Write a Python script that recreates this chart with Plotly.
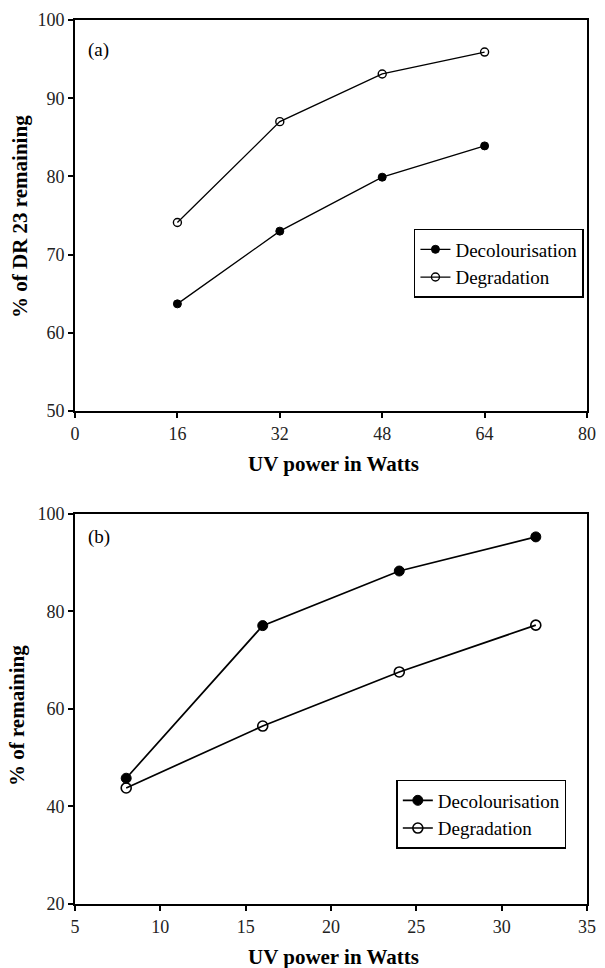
import plotly.graph_objects as go

# Panel (a)
power_a = [16, 32, 48, 64]
decol_a = [63.7, 73.0, 79.9, 83.9]
degr_a = [74.1, 87.0, 93.1, 95.9]

# Panel (b)
power_b = [8, 16, 24, 32]
decol_b = [45.8, 77.1, 88.3, 95.3]
degr_b = [43.8, 56.5, 67.6, 77.2]

FONT = "Liberation Serif"

fig = go.Figure()

fig.add_trace(go.Scatter(x=power_a, y=decol_a, mode="lines+markers", name="Decolourisation",
                         line=dict(color="black", width=1.3),
                         marker=dict(symbol="circle", size=8, color="black", line=dict(color="black", width=1)),
                         xaxis="x", yaxis="y", legend="legend"))
fig.add_trace(go.Scatter(x=power_a, y=degr_a, mode="lines+markers", name="Degradation",
                         line=dict(color="black", width=1.3),
                         marker=dict(symbol="circle-open", size=8, color="black", line=dict(color="black", width=1.4)),
                         xaxis="x", yaxis="y", legend="legend"))
fig.add_trace(go.Scatter(x=power_b, y=decol_b, mode="lines+markers", name="Decolourisation",
                         line=dict(color="black", width=1.7),
                         marker=dict(symbol="circle", size=10, color="black", line=dict(color="black", width=1)),
                         xaxis="x2", yaxis="y2", legend="legend2"))
fig.add_trace(go.Scatter(x=power_b, y=degr_b, mode="lines+markers", name="Degradation",
                         line=dict(color="black", width=1.7),
                         marker=dict(symbol="circle-open", size=10, color="black", line=dict(color="black", width=1.6)),
                         xaxis="x2", yaxis="y2", legend="legend2"))

axis_common = dict(showline=True, linecolor="black", linewidth=2, mirror=True,
                   ticks="outside", ticklen=5, tickwidth=1.5, tickcolor="black",
                   showgrid=False, zeroline=False,
                   tickfont=dict(family=FONT, size=18, color="#222"))

fig.update_layout(
    width=605, height=968,
    margin=dict(l=75, r=9, t=20, b=64),
    paper_bgcolor="white", plot_bgcolor="white",
    font=dict(family=FONT, color="black"),
    xaxis=dict(domain=[0, 1], range=[0, 80], tickvals=[0, 16, 32, 48, 64, 80], anchor="y", **axis_common),
    yaxis=dict(domain=[0.5577, 1], range=[50, 100], tickvals=[50, 60, 70, 80, 90, 100], anchor="x", **axis_common),
    xaxis2=dict(domain=[0, 1], range=[5, 35], tickvals=[5, 10, 15, 20, 25, 30, 35], anchor="y2", **axis_common),
    yaxis2=dict(domain=[0, 0.4412], range=[20, 100], tickvals=[20, 40, 60, 80, 100], anchor="x2", **axis_common),
    legend=dict(x=0.662, y=0.7636, xanchor="left", yanchor="top",
                bordercolor="black", borderwidth=1.5, bgcolor="white",
                font=dict(family=FONT, size=19, color="black"), tracegroupgap=2),
    legend2=dict(x=0.6276, y=0.1403, xanchor="left", yanchor="top",
                 bordercolor="black", borderwidth=1.5, bgcolor="white",
                 font=dict(family=FONT, size=19, color="black"), tracegroupgap=2),
    showlegend=True,
)

annotations = [
    dict(text="(a)", x=0.045, y=0.966, xref="paper", yref="paper", showarrow=False,
         font=dict(family=FONT, size=19, color="black"), xanchor="center", yanchor="middle"),
    dict(text="(b)", x=0.047, y=0.415, xref="paper", yref="paper", showarrow=False,
         font=dict(family=FONT, size=19, color="black"), xanchor="center", yanchor="middle"),
    dict(text="<b>UV power in Watts</b>", x=0.505, y=0.498, xref="paper", yref="paper", showarrow=False,
         font=dict(family=FONT, size=21, color="black"), xanchor="center", yanchor="middle"),
    dict(text="<b>UV power in Watts</b>", x=0.505, y=-0.0600, xref="paper", yref="paper", showarrow=False,
         font=dict(family=FONT, size=21, color="black"), xanchor="center", yanchor="middle"),
    dict(text="<b>% of DR 23 remaining</b>", x=-0.106, y=0.778, xref="paper", yref="paper", showarrow=False,
         textangle=-90, font=dict(family=FONT, size=21, color="black"), xanchor="center", yanchor="middle"),
    dict(text="<b>% of remaining</b>", x=-0.113, y=0.2127, xref="paper", yref="paper", showarrow=False,
         textangle=-90, font=dict(family=FONT, size=21, color="black"), xanchor="center", yanchor="middle"),
]
fig.update_layout(annotations=annotations)

fig.write_html("out.html")
